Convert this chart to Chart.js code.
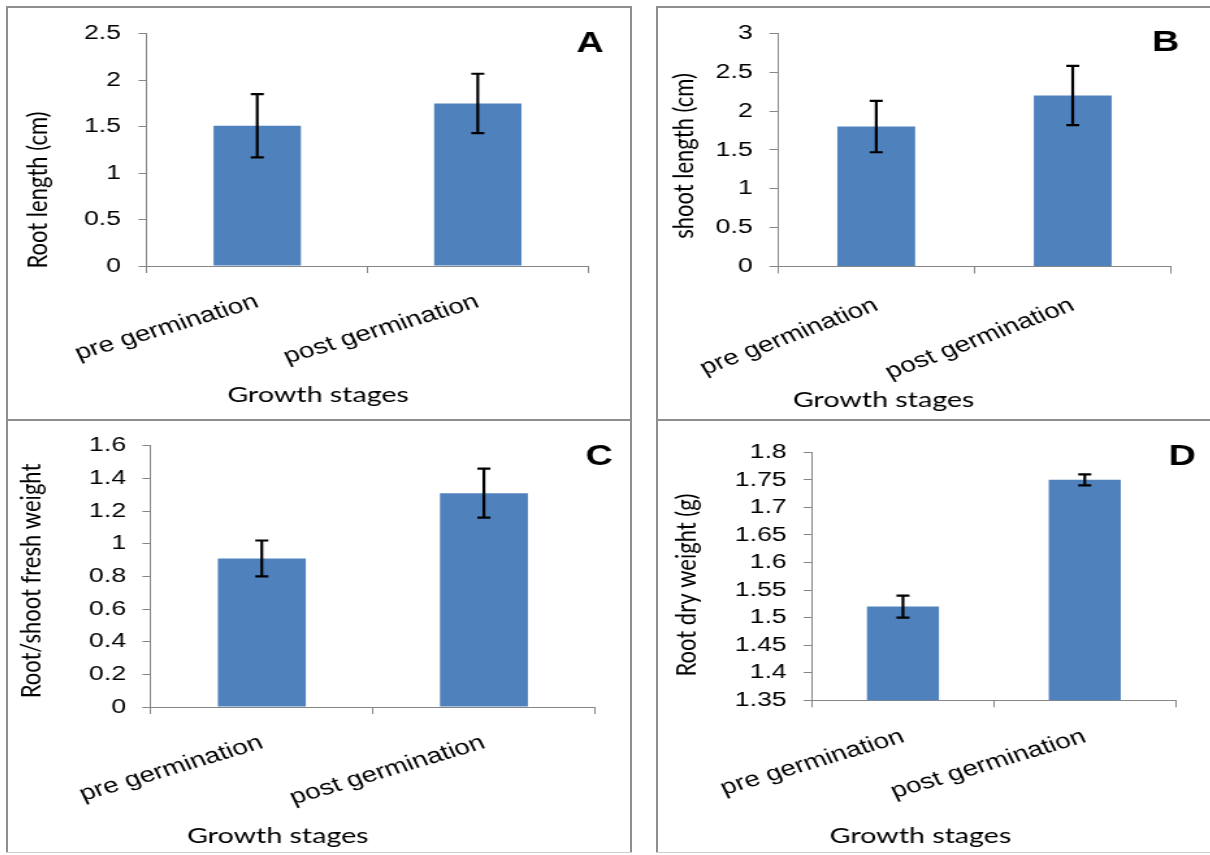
<!DOCTYPE html>
<html>
<head>
<meta charset="utf-8">
<title>Growth stages</title>
<script src="https://cdn.jsdelivr.net/npm/chart.js@4.4.0/dist/chart.umd.min.js"></script>
<style>
  html, body { margin: 0; padding: 0; background: #fff; }
  body { width: 1210px; height: 855px; position: relative; overflow: hidden; }
  .panel { position: absolute; overflow: hidden; }
  /* the figure is stretched sideways, text included */
  .panel canvas { transform: scaleX(1.3); transform-origin: 0 0; display: block; }
  .rule { position: absolute; background: #8e8e8e; }
  .rule.faint { background: #d0d0d0; }
</style>
</head>
<body>
  <div class="panel" style="left:8px; top:8px; width:622px; height:411px"><canvas id="chart-a" width="478" height="411"></canvas></div>
  <div class="panel" style="left:658px; top:8px; width:552px; height:411px"><canvas id="chart-b" width="425" height="411"></canvas></div>
  <div class="panel" style="left:8px; top:421px; width:622px; height:431px"><canvas id="chart-c" width="478" height="431"></canvas></div>
  <div class="panel" style="left:658px; top:421px; width:552px; height:431px"><canvas id="chart-d" width="425" height="431"></canvas></div>

  <!-- panel frames -->
  <div class="rule" style="left:6px; top:6px; width:626px; height:2px"></div>
  <div class="rule" style="left:656px; top:6px; width:554px; height:2px"></div>
  <div class="rule" style="left:6px; top:419px; width:626px; height:2px"></div>
  <div class="rule" style="left:656px; top:419px; width:554px; height:2px"></div>
  <div class="rule" style="left:6px; top:6px; width:2px; height:847px"></div>
  <div class="rule" style="left:630px; top:6px; width:2px; height:847px"></div>
  <div class="rule" style="left:656px; top:6px; width:2px; height:847px"></div>
  <div class="rule faint" style="left:6px; top:852px; width:626px; height:1px"></div>
  <div class="rule faint" style="left:656px; top:852px; width:554px; height:1px"></div>

<script>
// Seedling measurements at two growth stages (mean +/- error)
const stages = ['pre germination', 'post germination'];

const rootLength = [1.51, 1.75];
const rootLengthErr = [0.34, 0.32];
const rootLengthTicks = [0, 0.5, 1, 1.5, 2, 2.5];

const shootLength = [1.80, 2.20];
const shootLengthErr = [0.33, 0.38];
const shootLengthTicks = [0, 0.5, 1, 1.5, 2, 2.5, 3];

const rootShootRatio = [0.91, 1.31];
const rootShootRatioErr = [0.11, 0.15];
const rootShootTicks = [0, 0.2, 0.4, 0.6, 0.8, 1, 1.2, 1.4, 1.6];

const rootDryWeight = [1.52, 1.75];
const rootDryWeightErr = [0.02, 0.01];
const rootDryTicks = [1.35, 1.4, 1.45, 1.5, 1.55, 1.6, 1.65, 1.7, 1.75, 1.8];

const barBlue = '#4f81bd';
const axisGrey = '#868686';

// whiskers with caps, drawn from each bar's value and error through the y scale
const errorBars = {
  id: 'errorBars',
  afterDatasetsDraw(chart) {
    const { ctx } = chart;
    const y = chart.scales.y;
    const ds = chart.data.datasets[0];
    const meta = chart.getDatasetMeta(0);
    ctx.save();
    ctx.strokeStyle = '#000';
    ctx.lineWidth = 2.2;
    meta.data.forEach((bar, i) => {
      const hi = y.getPixelForValue(ds.data[i] + ds.errors[i]);
      const lo = y.getPixelForValue(ds.data[i] - ds.errors[i]);
      ctx.beginPath();
      ctx.moveTo(bar.x, hi);
      ctx.lineTo(bar.x, lo);
      ctx.moveTo(bar.x - 5, hi);
      ctx.lineTo(bar.x + 5, hi);
      ctx.moveTo(bar.x - 5, lo);
      ctx.lineTo(bar.x + 5, lo);
      ctx.stroke();
    });
    ctx.restore();
  }
};

// axis titles and the panel letter
const panelText = {
  id: 'panelText',
  afterDraw(chart, args, opts) {
    const { ctx } = chart;
    ctx.save();
    ctx.fillStyle = '#000';
    ctx.textAlign = 'center';

    ctx.font = 'bold 29px "Liberation Sans"';
    ctx.textBaseline = 'alphabetic';
    ctx.fillText(opts.letter, opts.letterAt[0], opts.letterAt[1]);

    ctx.font = '22px Lato';
    ctx.fillText(opts.xTitle, opts.xTitleAt[0], opts.xTitleAt[1]);

    ctx.translate(opts.yTitleAt[0], opts.yTitleAt[1]);
    ctx.rotate(-Math.PI / 2);
    ctx.textBaseline = 'middle';
    ctx.fillText(opts.yTitle, 0, 0);
    ctx.restore();
  }
};

function makePanel(canvasId, cfg) {
  return new Chart(document.getElementById(canvasId), {
    type: 'bar',
    data: {
      labels: stages,
      datasets: [{
        data: cfg.values,
        errors: cfg.errors,
        backgroundColor: barBlue,
        barPercentage: 0.396,
        categoryPercentage: 1
      }]
    },
    options: {
      responsive: false,
      animation: false,
      devicePixelRatio: 1,
      layout: { padding: cfg.padding },
      plugins: {
        legend: { display: false },
        tooltip: { enabled: false },
        panelText: cfg.text
      },
      scales: {
        x: {
          offset: true,
          grid: { offset: true, drawOnChartArea: false, tickLength: 7, color: axisGrey },
          border: { color: axisGrey },
          ticks: {
            color: '#000',
            font: { family: 'Liberation Sans', size: 21.5 },
            minRotation: cfg.rotation,
            maxRotation: cfg.rotation,
            autoSkip: false,
            padding: cfg.labelPad
          },
          // slanted labels may hang past the plot edge; keep the plot where it is
          afterFit: scale => {
            scale.height = cfg.xHeight;
            scale.paddingLeft = 0;
            scale.paddingRight = 0;
          }
        },
        y: {
          min: cfg.ticks[0],
          max: cfg.ticks[cfg.ticks.length - 1],
          afterBuildTicks: scale => { scale.ticks = cfg.ticks.map(value => ({ value })); },
          grid: { drawOnChartArea: false, tickLength: 6.5, color: axisGrey },
          border: { color: axisGrey },
          ticks: {
            color: '#000',
            font: { family: 'Liberation Sans', size: 20.5 },
            padding: cfg.tickPad,
            autoSkip: false,
            callback: value => String(value)
          },
          afterFit: scale => { scale.width = cfg.yWidth; }
        }
      }
    },
    plugins: [errorBars, panelText]
  });
}

makePanel('chart-a', {
  values: rootLength, errors: rootLengthErr, ticks: rootLengthTicks,
  padding: { left: 0, top: 24.7, right: 31.8, bottom: 0 },
  yWidth: 106.9, xHeight: 153, tickPad: 13.5, rotation: 21, labelPad: 16,
  text: { letter: 'A', letterAt: [447.7, 44], xTitle: 'Growth stages', xTitleAt: [238.5, 394],
          yTitle: 'Root length (cm)', yTitleAt: [23, 182] }
});

makePanel('chart-b', {
  values: shootLength, errors: shootLengthErr, ticks: shootLengthTicks,
  padding: { left: 0, top: 12.5, right: 30.4, bottom: 0 },
  yWidth: 92.3, xHeight: 152.5, tickPad: 13, rotation: 26, labelPad: 19,
  text: { letter: 'B', letterAt: [390.4, 43], xTitle: 'Growth stages', xTitleAt: [173.5, 399],
          yTitle: 'shoot length (cm)', yTitleAt: [19.7, 148] }
});

makePanel('chart-c', {
  values: rootShootRatio, errors: rootShootRatioErr, ticks: rootShootTicks,
  padding: { left: 0, top: 23.3, right: 26.5, bottom: 0 },
  yWidth: 109.8, xHeight: 145, tickPad: 12.5, rotation: 21, labelPad: 16,
  text: { letter: 'C', letterAt: [454.6, 44], xTitle: 'Growth stages', xTitleAt: [207.5, 421.5],
          yTitle: 'Root/shoot fresh weight', yTitleAt: [17.7, 160] }
});

makePanel('chart-d', {
  values: rootDryWeight, errors: rootDryWeightErr, ticks: rootDryTicks,
  padding: { left: 0, top: 31.3, right: 26.8, bottom: 0 },
  yWidth: 118.5, xHeight: 151.7, tickPad: 13, rotation: 21, labelPad: 16.5,
  text: { letter: 'D', letterAt: [403.1, 44], xTitle: 'Growth stages', xTitleAt: [201.9, 421.5],
          yTitle: 'Root dry weight (g)', yTitleAt: [21.8, 164] }
});
</script>
</body>
</html>
